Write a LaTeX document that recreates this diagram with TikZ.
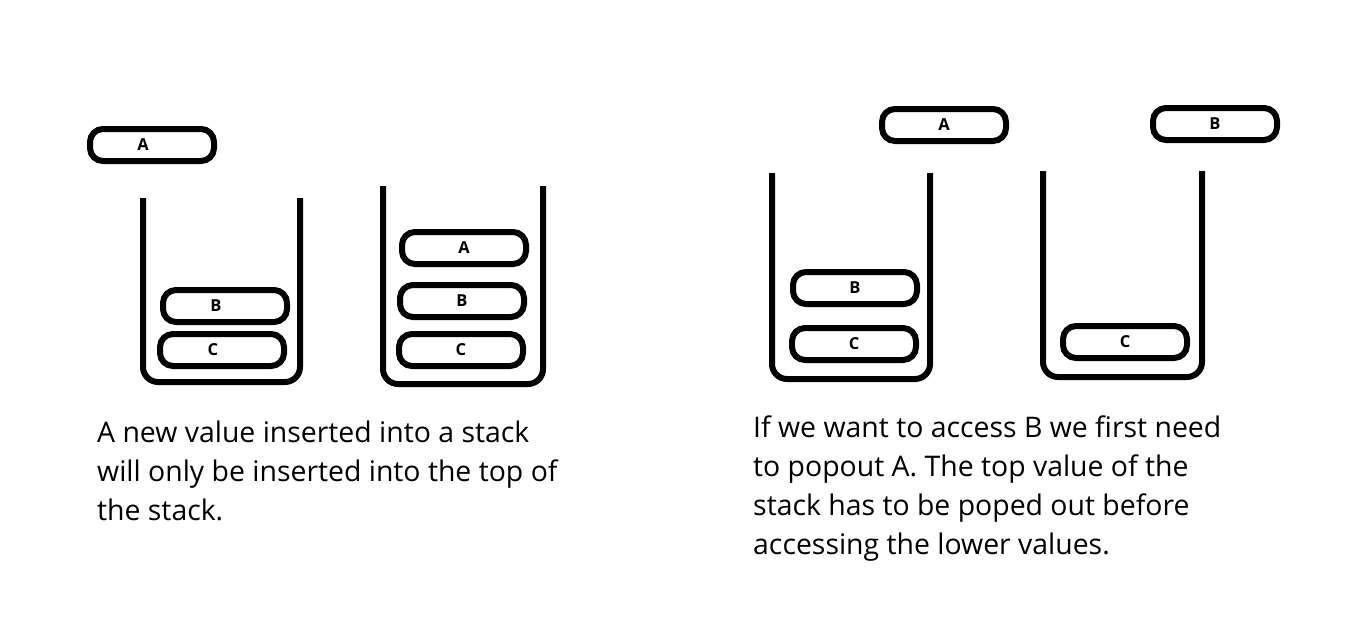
\documentclass[tikz,border=0pt]{standalone}
\usepackage{fontspec}
\setmainfont{Open Sans}
\usepackage{tikz}
\usetikzlibrary{positioning}

\tikzset{
  item/.style={draw, line width=6pt, rounded corners=13pt, minimum width=124pt,
    minimum height=32pt, inner sep=0pt, font=\fontsize{16.5}{16.5}\selectfont\bfseries},
  jar/.style={line width=6pt, rounded corners=15pt},
  note/.style={anchor=north west, align=left, inner sep=0pt,
    font=\fontsize{28.4}{39}\selectfont}
}

\begin{document}
\begin{tikzpicture}[x=1pt,y=-1pt]
  \useasboundingbox (0,0) rectangle (1350,629);

  % 左側: 値の挿入
  \node[item] (inA) at (152,145) {\hspace*{-18pt}A};
  \draw[jar] (143,198) -- (143,382) -- (300,382) -- (300,198);
  \node[item] (oneB) at (225,306) {\hspace*{-18pt}B};
  \node[item] (oneC) at (222,350) {\hspace*{-18pt}C};

  \draw[jar] (383,186) -- (383,384) -- (543,384) -- (543,186);
  \node[item] (twoA) at (464,248) {A};
  \node[item] (twoB) at (462,301) {B};
  \node[item] (twoC) at (461,350) {C};

  % 右側: 値の取り出し
  \node[item] (outA) at (944,125) {A};
  \draw[jar] (772,173) -- (772,379) -- (930,379) -- (930,173);
  \node[item] (threeB) at (855,288) {B};
  \node[item] (threeC) at (854,344) {C};

  \node[item] (outB) at (1215,124) {B};
  \draw[jar] (1043,171) -- (1043,377) -- (1202,377) -- (1202,171);
  \node[item] (fourC) at (1125,342) {C};

  % 説明文
  \node[note] (pushtext) at (97,421) {A new value inserted into a stack\\
    will only be inserted into the top of\\the stack.};
  \node[note] (poptext) at (753,416) {If we want to access B we first need\\
    to popout A. The top value of the\\stack has to be poped out before\\
    accessing the lower values.};
\end{tikzpicture}
\end{document}
